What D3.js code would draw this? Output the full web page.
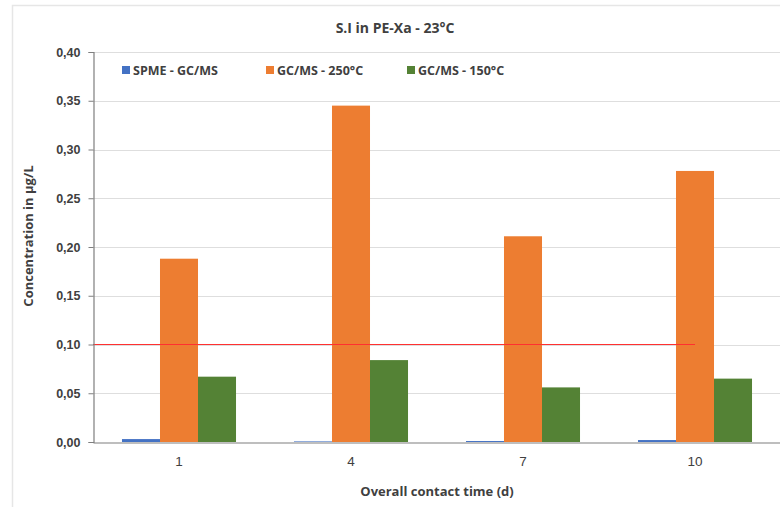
<!DOCTYPE html>
<html>
<head>
<meta charset="utf-8">
<script src="https://cdn.jsdelivr.net/npm/d3@7"></script>
<style>
  body { margin: 0; background: #fff; }
  svg { font-family: "Open Sans", "Liberation Sans", sans-serif; }
  .tick text { font-size: 12.5px; font-weight: 700; fill: #404040; }
  .xaxis .tick text { font-size: 13.5px; font-weight: 400; fill: #404040; }
</style>
</head>
<body>
<svg></svg>
<script>
// chart data
let categories = ['1', '4', '7', '10']
let seriesNames = ['SPME - GC/MS', 'GC/MS - 250°C', 'GC/MS - 150°C']
let spme = [0.003, 0.0006, 0.001, 0.002]
let gc250 = [0.188, 0.345, 0.211, 0.278]
let gc150 = [0.067, 0.084, 0.056, 0.065]
let yTicks = [0, 0.05, 0.10, 0.15, 0.20, 0.25, 0.30, 0.35, 0.40]
let limitValue = 0.10

let colors = ['#4472C4', '#ED7D31', '#548235']
let seriesValues = [spme, gc250, gc150]

let w = 780
let h = 507
let plotLeft = 93
let plotRight = 781
let plotTop = 52
let plotBottom = 442

let svg = d3.select('svg').attr('width', w).attr('height', h)

// frame of the chart area
svg.append('rect')
  .attr('x', 12.5).attr('y', 5.5)
  .attr('width', 800).attr('height', 520)
  .attr('fill', '#fff')
  .attr('stroke', '#e6e6e6')
  .attr('stroke-width', 1.5)

let xScale = d3.scaleBand()
  .domain(categories)
  .range([plotLeft, plotRight])
  .paddingInner(0.337)
  .paddingOuter(0.1685)

let xInner = d3.scaleBand()
  .domain(d3.range(seriesNames.length))
  .range([0, xScale.bandwidth()])

let yScale = d3.scaleLinear()
  .domain([0, 0.40])
  .range([plotBottom, plotTop])

// gridlines
svg.append('g')
  .selectAll('line')
  .data(yTicks.slice(1))
  .enter()
  .append('line')
  .attr('x1', plotLeft).attr('x2', plotRight)
  .attr('y1', (d) => Math.round(yScale(d)) + 0.5)
  .attr('y2', (d) => Math.round(yScale(d)) + 0.5)
  .attr('stroke', '#dedede')
  .attr('stroke-width', 1)

// bars
categories.forEach((c, i) => {
  seriesValues.forEach((vals, s) => {
    svg.append('rect')
      .attr('x', xScale(c) + xInner(s))
      .attr('y', yScale(vals[i]))
      .attr('width', xInner.bandwidth())
      .attr('height', plotBottom - yScale(vals[i]))
      .attr('fill', colors[s])
  })
})

// limit line
svg.append('line')
  .attr('x1', plotLeft)
  .attr('x2', xScale(categories[categories.length - 1]) + xScale.bandwidth() / 2)
  .attr('y1', yScale(limitValue))
  .attr('y2', yScale(limitValue))
  .attr('stroke', '#ff3030')
  .attr('stroke-width', 1.1)

// axes
let yAxis = d3.axisLeft(yScale)
  .tickValues(yTicks)
  .tickFormat((d) => d3.format('.2f')(d).replace('.', ','))
  .tickSizeOuter(0)
  .tickSize(5)
  .tickPadding(8)

let gy = svg.append('g')
  .attr('transform', 'translate(' + (plotLeft + 0.5) + ', 0)')
  .call(yAxis)
gy.selectAll('line').attr('stroke', '#7f7f7f')
gy.select('.domain').attr('stroke', '#7f7f7f').attr('stroke-width', 1.2)

let xAxis = d3.axisBottom(xScale)
  .tickSize(0)
  .tickPadding(14)

let gx = svg.append('g')
  .attr('class', 'xaxis')
  .attr('transform', 'translate(0, ' + (plotBottom + 0.5) + ')')
  .call(xAxis)
gx.select('.domain').attr('stroke', '#7f7f7f').attr('stroke-width', 1.2)

// title
svg.append('text')
  .attr('x', 395).attr('y', 33)
  .attr('text-anchor', 'middle')
  .attr('font-size', 14)
  .attr('font-weight', 700)
  .attr('fill', '#404040')
  .text('S.I in PE-Xa - 23°C')

// axis titles
svg.append('text')
  .attr('x', (plotLeft + plotRight) / 2).attr('y', 496)
  .attr('text-anchor', 'middle')
  .attr('font-size', 13)
  .attr('font-weight', 700)
  .attr('fill', '#404040')
  .text('Overall contact time (d)')

svg.append('text')
  .attr('transform', 'translate(33, 236) rotate(-90)')
  .attr('text-anchor', 'middle')
  .attr('font-size', 13)
  .attr('font-weight', 700)
  .attr('fill', '#404040')
  .text('Concentration in µg/L')

// legend
let legendX = [122, 266, 407]
seriesNames.forEach((name, s) => {
  svg.append('rect')
    .attr('x', legendX[s]).attr('y', 66)
    .attr('width', 8).attr('height', 8)
    .attr('fill', colors[s])
  svg.append('text')
    .attr('x', legendX[s] + 11).attr('y', 75)
    .attr('font-size', 12.5)
    .attr('font-weight', 700)
    .attr('fill', '#404040')
    .text(name)
})
</script>
</body>
</html>
